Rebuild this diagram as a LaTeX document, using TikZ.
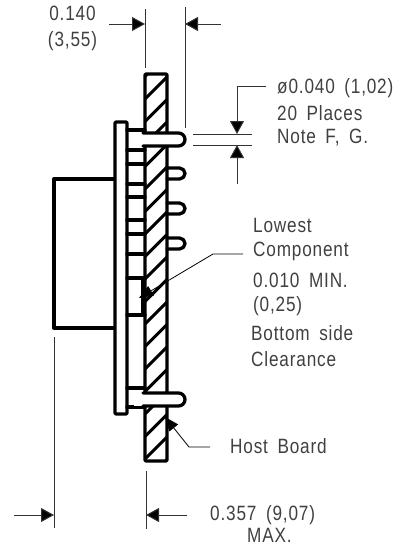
\documentclass[tikz,border=0pt]{standalone}
\usepackage{fontspec}
\setmainfont{Liberation Sans}[LetterSpace=4,FakeStretch=0.83,WordSpace=1.7]
\usetikzlibrary{arrows.meta}
\tikzset{
  thickline/.style={line width=3.3pt,line join=round,line cap=round},
  thinline/.style={line width=1pt,black!80},
  hatchline/.style={line width=3pt},
  dimarrow/.style={thinline,-{Triangle[length=13pt,width=14pt,fill=black]}},
  leadarrow/.style={line width=0.8pt,-{Triangle[length=14pt,width=11pt,fill=black]}},
  label/.style={anchor=base west,inner sep=0pt,font=\fontsize{20.7}{23}\selectfont,text=black!75},
  pinshape/.style={thickline,fill=white}
}
\begin{document}
\begin{tikzpicture}[x=1pt,y=-1pt]
\useasboundingbox (0,0) rectangle (412,546);
% hatching of the host board
\begin{scope}
  \clip (145,74) rectangle (167,461);
  \foreach \k in {-1,0,...,18} {
    \draw[hatchline] ({167+12},{77+22.5*\k-12}) -- ({167-34},{77+22.5*\k+34});
  }
\end{scope}
% host board outline
\draw[thickline,rounded corners=1pt] (145,74) rectangle (167,461);
% module case and PCB
\draw[thickline] (115,179) -- (54,179) -- (54,328) -- (115,328);
\draw[thickline,fill=white,rounded corners=1pt] (115,122) rectangle (127,414);
% spacers
\foreach \ya/\yb in {130/150,164/184,197/220,234/254,278/315,388/407}{
  \draw[thickline] (127,\ya) -- (145,\ya);
  \draw[thickline] (127,\yb) -- (145,\yb);
}
\draw[thickline] (143,278) -- (143,315);
% long pins through the board
\foreach \ya/\yb in {133/146,393/406}{
  \fill[white] (134,\ya) rectangle (170,\yb);
  \draw[pinshape,rounded corners=6.5pt] (143,\ya) -- (185,\ya) -- (185,\yb) -- (143,\yb);
}
% short pins
\foreach \ya/\yb in {168/179,203/214,238/249}{
  \draw[pinshape,fill=none,rounded corners=5.5pt] (167,\ya) -- (185,\ya) -- (185,\yb) -- (167,\yb);
}
% dimension 0.140
\coordinate (e1a) at (145,9); \coordinate (e1b) at (145,68);
\coordinate (e2a) at (185,7); \coordinate (e2b) at (185,128);
\coordinate (a1) at (109,24); \coordinate (t1) at (145,24);
\coordinate (a2) at (221,24); \coordinate (t2) at (185,24);
\draw[thinline] (e1a) -- (e1b);
\draw[thinline] (e2a) -- (e2b);
\draw[dimarrow] (a1) -- (t1);
\draw[dimarrow] (a2) -- (t2);
\node[label,anchor=base] (d140) at (72.5,20) {0.140};
\node[label,anchor=base] (d355) at (72.5,46) {(3,55)};
% diameter dimension
\coordinate (h1a) at (193,134); \coordinate (h1b) at (252,134);
\coordinate (h2a) at (193,145); \coordinate (h2b) at (252,145);
\draw[thinline] (h1a) -- (h1b);
\draw[thinline] (h2a) -- (h2b);
\coordinate (b1) at (266,86); \coordinate (b2) at (237,86); \coordinate (t3) at (237,134);
\coordinate (b3) at (237,184); \coordinate (t4) at (237,145);
\draw[dimarrow] (b1) -- (b2) -- (t3);
\draw[dimarrow] (b3) -- (t4);
\node[label] (phi) at (277,93) {ø0.040 (1,02)};
\node[label] (places) at (277,120) {20 Places};
\node[label] (note) at (277,143) {Note F, G.};
% lowest component
\coordinate (l1) at (243,254); \coordinate (l2) at (213,254); \coordinate (l3) at (139,298);
\draw[leadarrow] (l1) -- (l2) -- (l3);
\node[label] (lowest) at (253,232) {Lowest};
\node[label] (comp) at (253,256) {Component};
\node[label] (min) at (253,287) {0.010 MIN.};
\node[label] (mm) at (253,311) {(0,25)};
\node[label] (bside) at (251,340) {Bottom side};
\node[label] (clear) at (251,366) {Clearance};
% host board leader
\coordinate (p1) at (210,447); \coordinate (p2) at (189,447); \coordinate (p3) at (165,417);
\draw[leadarrow] (p1) -- (p2) -- (p3);
\node[label] (host) at (230,453) {Host Board};
% overall dimension
\coordinate (e3a) at (54,337); \coordinate (e3b) at (54,528);
\coordinate (e4a) at (146,471); \coordinate (e4b) at (146,529);
\draw[thinline] (e3a) -- (e3b);
\draw[thinline] (e4a) -- (e4b);
\coordinate (c1) at (14,515); \coordinate (t5) at (54,515);
\coordinate (c2) at (187,515); \coordinate (t6) at (146,515);
\draw[dimarrow] (c1) -- (t5);
\draw[dimarrow] (c2) -- (t6);
\node[label] (d357) at (210,520) {0.357 (9,07)};
\node[label] (dmax) at (247,542) {MAX.};
\end{tikzpicture}
\end{document}
